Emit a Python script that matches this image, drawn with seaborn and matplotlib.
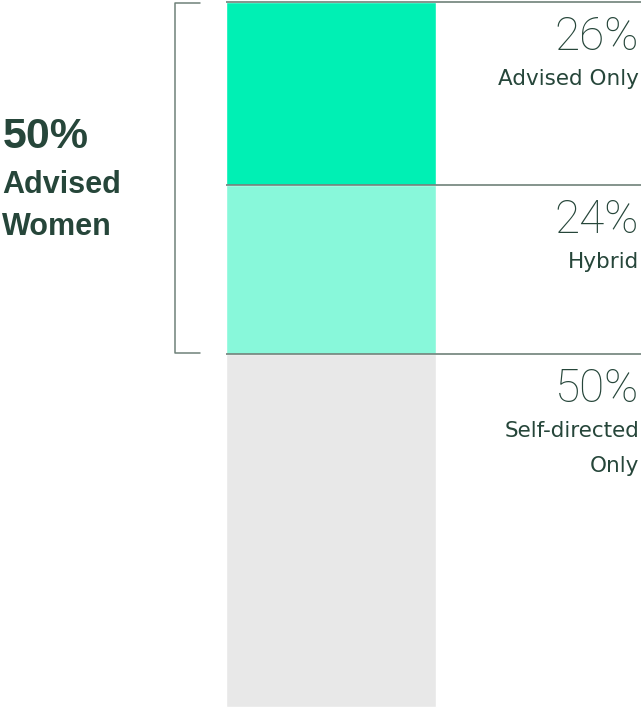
import numpy as np
import matplotlib
matplotlib.use('Agg')
import matplotlib.pyplot as plt
import seaborn as sns

# ── DATA ─────────────────────────────────────────────────────────────────────
segments = ["Advised Only", "Hybrid", "Self-directed\nOnly"]
shares = [26, 24, 50]
seg_colors = ["#00F0B4", "#88F8DA", "#E8E8E8"]
advised_total = 50
group_label = ["Advised", "Women"]

TEXT = "#26463A"
LINE = "#6F8179"

sns.set_theme(style="white")
plt.rcParams['font.family'] = ['DejaVu Sans']

fig = plt.figure(figsize=(6.41, 7.09), dpi=100)
ax = fig.add_axes([0, 0, 1, 1])

# stacked bar: draw cumulative bars, largest first
cum = np.cumsum(shares)
for end, col in list(zip(cum, seg_colors))[::-1]:
    sns.barplot(x=[0], y=[end], color=col, saturation=1, width=1, ax=ax)

# px mapping: bar 226..436 px wide, 2..707 px tall
ax.set_xlim(-0.5 - 226 / 210, 0.5 + 205 / 210)
ax.set_ylim((709 - 2) / 7.05, -2 / 7.05)
ax.axis('off')

# separator lines from bar to right edge
bounds = np.concatenate([[0], cum[:-1]])
ax.hlines(bounds, -0.5, 2, color=LINE, lw=1.2, zorder=5)

# bracket around advised share
bx = -0.5 - 51 / 210
tx = -0.5 - 26 / 210
ax.plot([tx, bx, bx, tx], [0.1, 0.1, advised_total - 0.2, advised_total - 0.2],
        color=LINE, lw=1.1, clip_on=False)

# right-hand labels
for b, s, name in zip(bounds, shares, segments):
    ax.annotate(f"{s}%", xy=(1, b), xycoords=("axes fraction", "data"),
                xytext=(-2, -48), textcoords="offset pixels",
                ha="right", va="baseline", fontsize=33, fontweight="light",
                color=TEXT, family=["Roboto", "DejaVu Sans"])
    for i, line in enumerate(name.split("\n")):
        ax.annotate(line, xy=(1, b), xycoords=("axes fraction", "data"),
                    xytext=(-2, -83 - 35 * i), textcoords="offset pixels",
                    ha="right", va="baseline", fontsize=15.5, color=TEXT)

# left-hand group label
bold = dict(xycoords="axes fraction", textcoords="offset pixels",
            ha="left", va="baseline", fontweight="bold", color=TEXT,
            family=["Liberation Sans", "DejaVu Sans"])
ax.annotate(f"{advised_total}%", xy=(0, 1), xytext=(3, -148),
            fontsize=31, **bold)
for i, word in enumerate(group_label):
    ax.annotate(word, xy=(0, 1), xytext=(2, -193 - 42 * i),
                fontsize=22, **bold)

plt.savefig("out.png", dpi=100)
plt.close()
